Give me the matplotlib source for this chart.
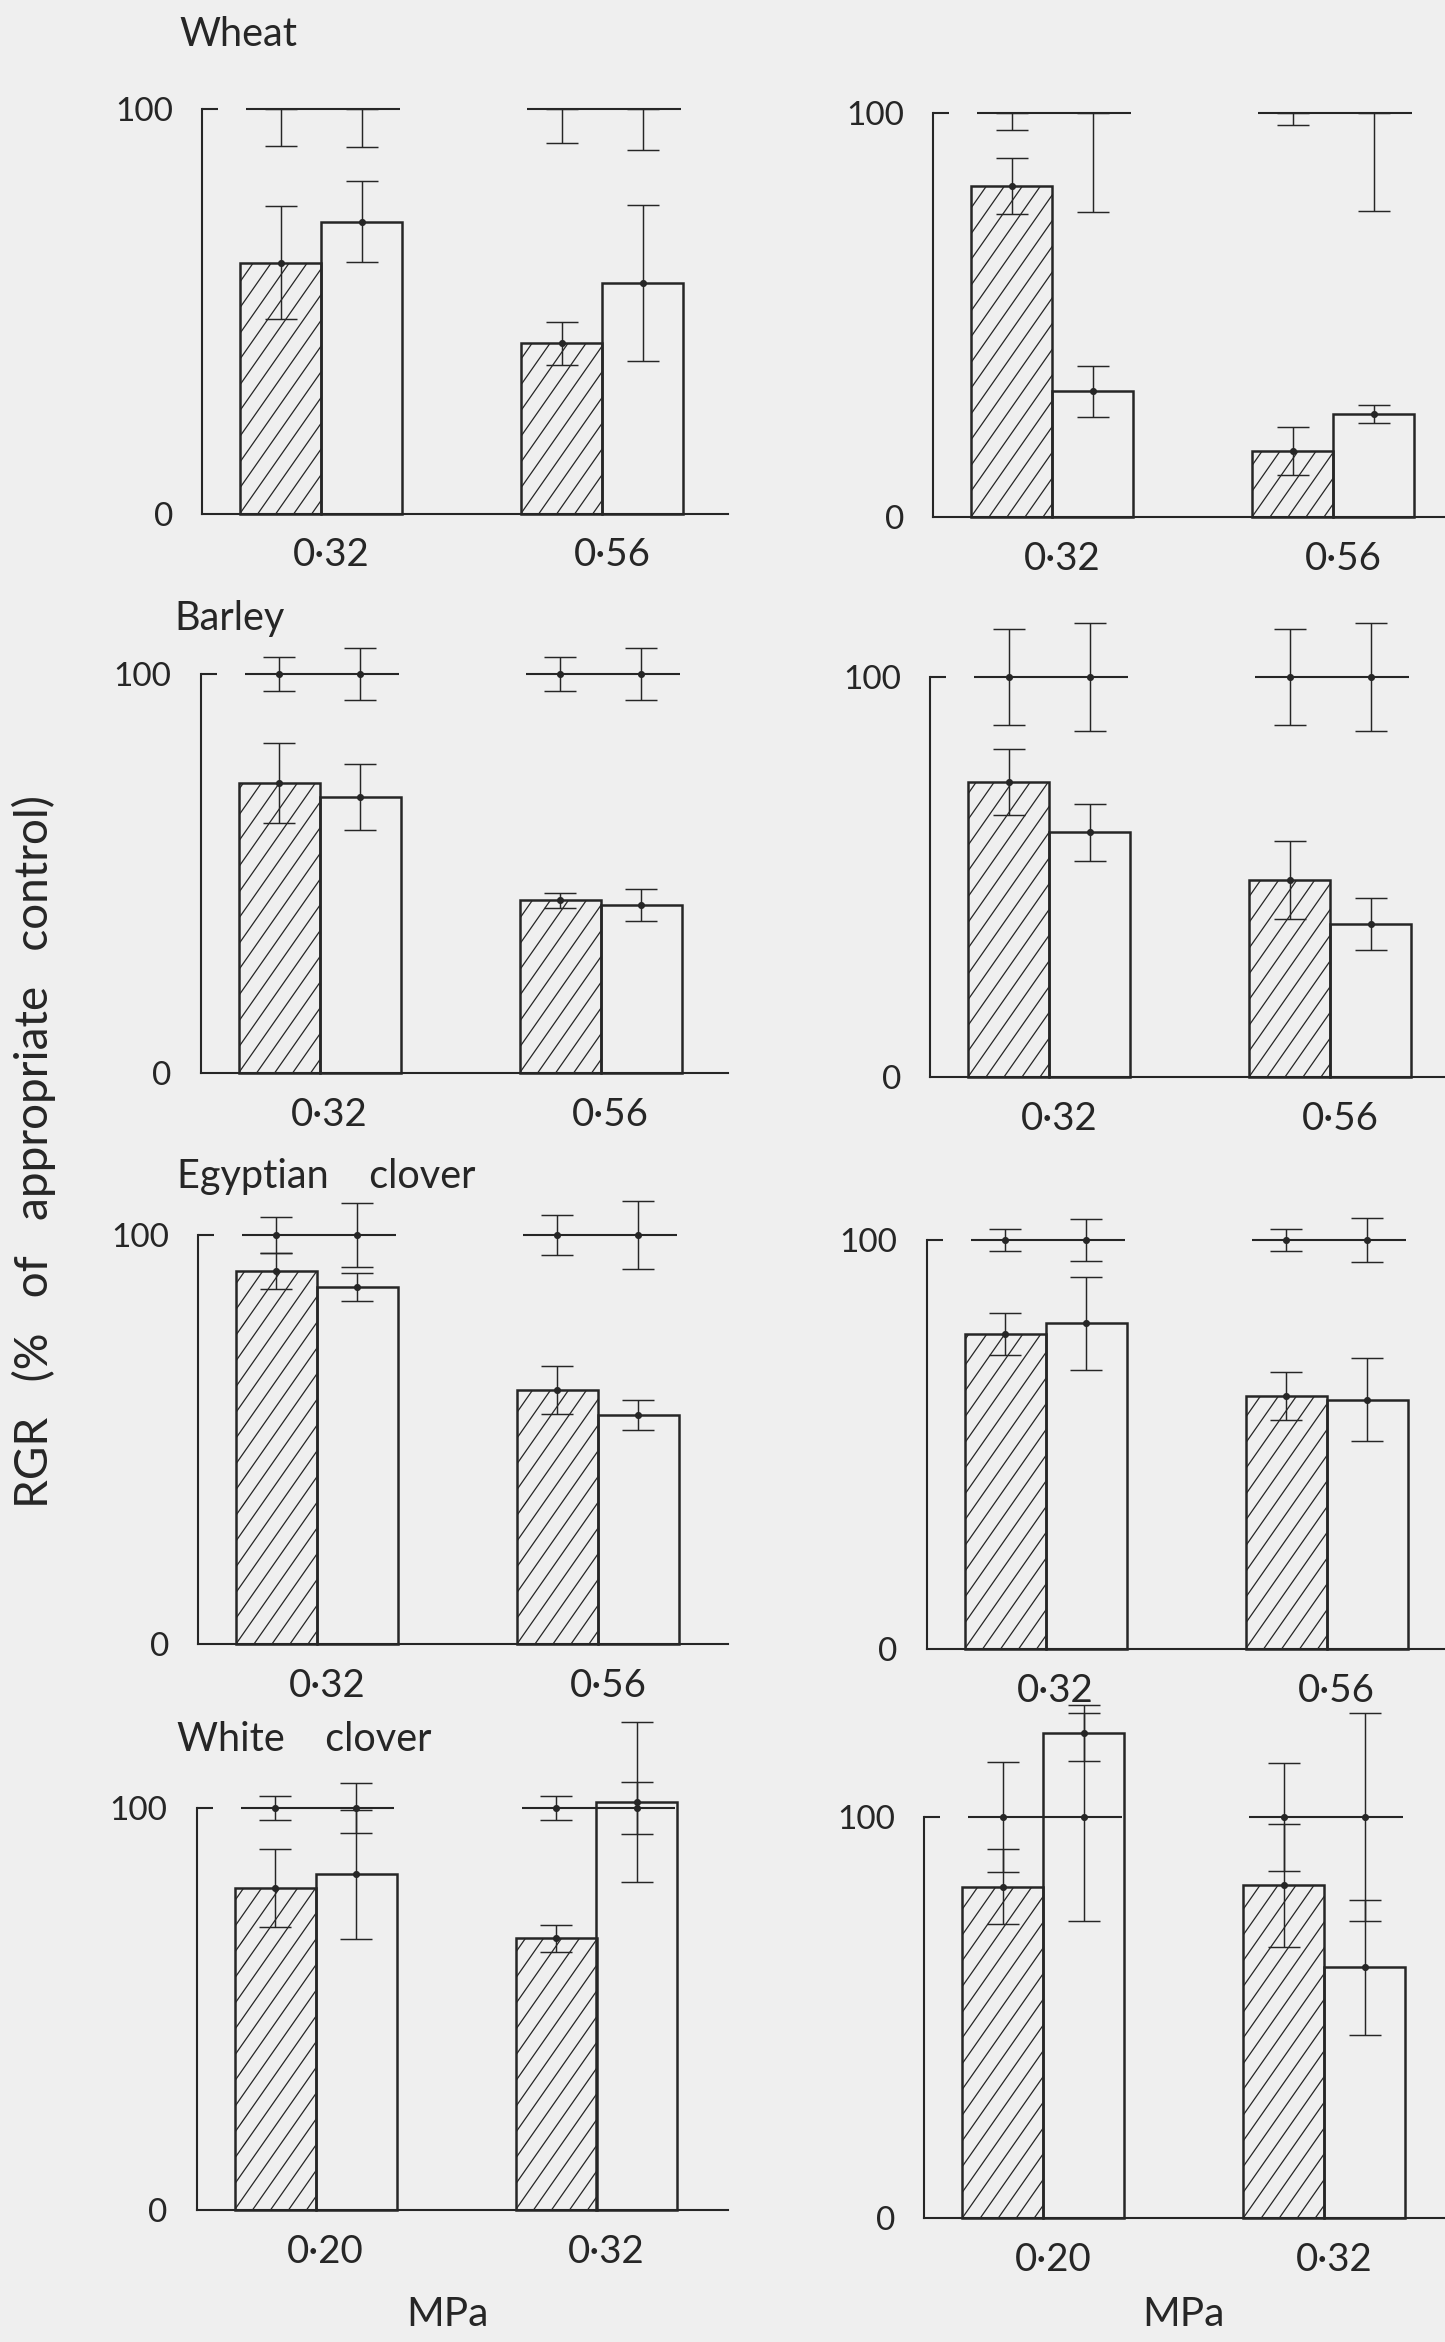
import matplotlib
matplotlib.use("Agg")
import matplotlib.pyplot as plt
from matplotlib import font_manager
from matplotlib.collections import LineCollection
from matplotlib.transforms import ScaledTranslation

# ---------------------------------------------------------------- data
species = ["Wheat", "Barley", "Egyptian clover", "White clover"]
pressure_labels = [["0·32", "0·56"], ["0·32", "0·56"],
                   ["0·32", "0·56"], ["0·20", "0·32"]]
control_value = 100
# Wheat controls carry only a downward error bar
one_sided_control = [True, False, False, False]

# left column (per species: [low stress, high stress])
left_hatched = [[62.0, 42.1], [72.6, 43.3], [91.2, 62.1], [80.1, 67.6]]
left_hatched_err = [[14.0, 5.3], [10.0, 1.9], [4.4, 5.9], [9.8, 3.3]]
left_open = [[72.1, 57.0], [69.1, 42.2], [87.3, 56.0], [83.5, 101.5]]
left_open_err = [[10.0, 19.2], [8.3, 4.0], [3.5, 3.6], [16.1, 19.9]]
left_ctrl_hatched_err = [[9.2, 8.4], [4.3, 4.2], [4.4, 4.8], [3.1, 3.1]]
left_ctrl_open_err = [[9.3, 10.1], [6.6, 6.6], [7.8, 8.3], [6.1, 6.4]]

# right column
right_hatched = [[82.0, 16.3], [73.8, 49.3], [77.1, 61.9], [82.6, 83.0]]
right_hatched_err = [[6.9, 5.9], [8.2, 9.8], [5.1, 5.9], [9.4, 15.3]]
right_open = [[31.1, 25.4], [61.2, 38.3], [79.6, 61.0], [120.9, 62.5]]
right_open_err = [[6.4, 2.2], [7.1, 6.5], [11.4, 10.1], [7.0, 16.8]]
right_ctrl_hatched_err = [[4.1, 3.0], [12.0, 12.0], [2.8, 2.8], [13.6, 13.5]]
right_ctrl_open_err = [[24.5, 24.2], [13.4, 13.5], [5.1, 5.4], [25.9, 26.0]]

y_label = "RGR (% of appropriate control)"
x_label = "MPa"

# ---------------------------------------------------------------- layout
W, H, DPI = 1445, 2342, 150
INK = "#262626"
PAPER = "#efefef"

# (y-axis x, zero-line y, 100-line y) in pixels, one per row
left_frames = [(202, 513.5, 109), (200.6, 1073, 674),
               (198, 1644, 1235), (196.5, 2210, 1808)]
right_frames = [(933, 517, 113), (930, 1077, 677),
                (926.6, 1649, 1240), (924.3, 2218, 1817)]
LEFT_AXIS_END = 728
RIGHT_AXIS_END = 1470

BAR_W = 81          # bar width (px)
FIRST_GAP = 38      # y-axis to first bar (px)
GROUP_STEP = 281    # distance between the two bar pairs (px)

title_pos = [(179, 46), (174, 630), (177, 1188), (177, 1751)]
HATCH_DX = 18.0     # horizontal spacing of hatch lines (px)
HATCH_SLOPE = 1.43  # rise over run of hatch lines


def pick_family(candidates):
    names = {f.name for f in font_manager.fontManager.ttflist}
    for c in candidates:
        if c in names:
            return c
    return "DejaVu Sans"


def spaced(text, n):
    """Widen the gaps between words, as in hand-stencilled lettering."""
    return (" " * n).join(text.split(" "))


FAMILY = pick_family(["Lato", "Roboto", "Open Sans", "DejaVu Sans"])
plt.rcParams["font.family"] = [FAMILY, "DejaVu Sans"]
plt.rcParams["font.weight"] = "normal"
plt.rcParams["text.color"] = INK
plt.rcParams["xtick.color"] = INK
plt.rcParams["ytick.color"] = INK

fig = plt.figure(figsize=(W / DPI, H / DPI), dpi=DPI, facecolor=PAPER)


def add_hatch(ax, rect):
    """Draw steep diagonal hatching inside a bar, clipped to its outline."""
    x0, y0 = ax.transData.transform((rect.get_x(), rect.get_y()))
    x1, y1 = ax.transData.transform((rect.get_x() + rect.get_width(),
                                     rect.get_y() + rect.get_height()))
    run = (y1 - y0) / HATCH_SLOPE
    inv = ax.transData.inverted()
    segs = []
    n_before = int(run // HATCH_DX) + 1
    k = -n_before
    while x0 + k * HATCH_DX <= x1:
        c = x0 + k * HATCH_DX
        segs.append(inv.transform([(c, y0), (c + run, y1)]))
        k += 1
    lc = LineCollection(segs, colors=INK, linewidths=0.6)
    ax.add_collection(lc)
    lc.set_clip_path(rect)


def unclip(container):
    for art in container.get_children():
        art.set_clip_on(False)


def draw_panel(frame, axis_end, row, hatched, hatched_err, opened, opened_err,
               ctrl_h_err, ctrl_o_err):
    xa, zero, hund = frame
    ax = fig.add_axes([xa / W, (H - zero) / H, (axis_end - xa) / W,
                       (zero - hund) / H])
    ax.set_facecolor("none")
    ax.set_xlim(0, axis_end - xa)
    ax.set_ylim(0, 100)

    hx = [FIRST_GAP + BAR_W / 2 + i * GROUP_STEP for i in range(2)]
    ox = [x + BAR_W for x in hx]

    hb = ax.bar(hx, hatched, width=BAR_W, facecolor="none", edgecolor=INK,
                linewidth=1.2, clip_on=False, zorder=2)
    ax.bar(ox, opened, width=BAR_W, facecolor="none", edgecolor=INK,
           linewidth=1.2, clip_on=False, zorder=2)
    for rect in hb:
        add_hatch(ax, rect)

    # control reference line across each bar pair
    ax.hlines([control_value] * 2, [x - BAR_W / 2 + 6 for x in hx],
              [x + BAR_W / 2 - 2 for x in ox], color=INK, linewidth=1.0,
              clip_on=False, zorder=3)

    eb_kw = dict(color=INK, elinewidth=0.7, capsize=7.5, capthick=0.7,
                 markersize=2.4, zorder=4)
    unclip(ax.errorbar(hx, hatched, yerr=hatched_err, fmt="o", **eb_kw))
    unclip(ax.errorbar(ox, opened, yerr=opened_err, fmt="o", **eb_kw))
    for xs, errs in ((hx, ctrl_h_err), (ox, ctrl_o_err)):
        if one_sided_control[row]:
            unclip(ax.errorbar(xs, [control_value] * 2,
                               yerr=[errs, [0, 0]], fmt="none", **eb_kw))
        else:
            unclip(ax.errorbar(xs, [control_value] * 2, yerr=errs, fmt="o",
                               **eb_kw))

    for s in ("top", "right"):
        ax.spines[s].set_visible(False)
    for s in ("left", "bottom"):
        ax.spines[s].set_linewidth(1.0)
        ax.spines[s].set_color(INK)

    ax.set_yticks([0, 100], ["0", "100"])
    ax.tick_params(axis="y", direction="in", length=7.5, width=1.0, pad=14,
                   labelsize=16)
    ax.yaxis.get_major_ticks()[0].tick1line.set_visible(False)

    centers = [(h + o) / 2 for h, o in zip(hx, ox)]
    ax.set_xticks(centers, pressure_labels[row])
    ax.tick_params(axis="x", length=0, pad=11.5, labelsize=18.5)
    shift = ScaledTranslation(10 / DPI, 0, fig.dpi_scale_trans)
    for lab in ax.get_xticklabels():
        lab.set_transform(lab.get_transform() + shift)
    return ax


for r in range(4):
    draw_panel(left_frames[r], LEFT_AXIS_END, r, left_hatched[r],
               left_hatched_err[r], left_open[r], left_open_err[r],
               left_ctrl_hatched_err[r], left_ctrl_open_err[r])
    draw_panel(right_frames[r], RIGHT_AXIS_END, r, right_hatched[r],
               right_hatched_err[r], right_open[r], right_open_err[r],
               right_ctrl_hatched_err[r], right_ctrl_open_err[r])
    tx, ty = title_pos[r]
    fig.text(tx / W, 1 - ty / H, spaced(species[r], 4), ha="left",
             va="baseline", fontsize=19)

fig.text(34 / W, 1 - 1152 / H, spaced(y_label, 3), rotation=90,
         ha="center", va="center", fontsize=22)
fig.text(447 / W, 1 - 2314 / H, x_label, ha="center", va="center",
         fontsize=19.5)
fig.text(1183 / W, 1 - 2314 / H, x_label, ha="center", va="center",
         fontsize=19.5)

fig.savefig("out.png", dpi=DPI, facecolor=PAPER)
